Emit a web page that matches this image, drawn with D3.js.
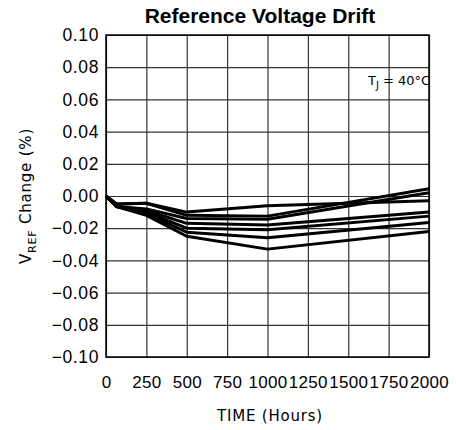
<!DOCTYPE html>
<html>
<head>
<meta charset="utf-8">
<script src="https://cdn.jsdelivr.net/npm/d3@7"></script>
<style>
  body { margin: 0; background: #fff; }
  svg { display: block; }
</style>
</head>
<body>
<svg></svg>
<script>
const WIDTH = 456;
const HEIGHT = 430;
const MARGINS = { left: 106, top: 35, right: 27, bottom: 73 };
const graphWidth = WIDTH - MARGINS.left - MARGINS.right;
const graphHeight = HEIGHT - MARGINS.top - MARGINS.bottom;

// time points (hours)
const hours = [0, 65, 250, 500, 1000, 2000];
// VREF change (%) for each unit
const unit1 = [0, -0.005, -0.0045, -0.0100, -0.0060, -0.0030];
const unit2 = [0, -0.005, -0.0045, -0.0120, -0.0125, 0.0045];
const unit3 = [0, -0.0065, -0.0080, -0.0140, -0.0145, 0.0020];
const unit4 = [0, -0.0065, -0.0090, -0.0170, -0.0180, -0.0100];
const unit5 = [0, -0.0065, -0.0100, -0.0200, -0.0210, -0.0125];
const unit6 = [0, -0.0065, -0.0110, -0.0225, -0.0260, -0.0165];
const unit7 = [0, -0.0065, -0.0120, -0.0250, -0.0330, -0.0220];
const units = [unit1, unit2, unit3, unit4, unit5, unit6, unit7];

const xTicks = [0, 250, 500, 750, 1000, 1250, 1500, 1750, 2000];
const yTicks = [0.1, 0.08, 0.06, 0.04, 0.02, 0, -0.02, -0.04, -0.06, -0.08, -0.1];

const svg = d3.select('svg').attr('width', WIDTH).attr('height', HEIGHT);

const graph = svg
  .append('g')
  .attr('transform', `translate(${MARGINS.left}, ${MARGINS.top})`);

const x = d3.scaleLinear().domain([0, 2000]).range([0, graphWidth]);
const y = d3.scaleLinear().domain([-0.1, 0.1]).range([graphHeight, 0]);

// grid
const xGrid = graph.append('g')
  .call(d3.axisBottom(x).tickValues(xTicks).tickSize(graphHeight).tickFormat(''));
const yGrid = graph.append('g')
  .call(d3.axisLeft(y).tickValues(yTicks).tickSize(-graphWidth).tickFormat(''));
[xGrid, yGrid].forEach((g) => {
  g.select('.domain').remove();
  g.selectAll('line').attr('stroke', '#333').attr('stroke-width', 1.2);
});

graph.append('rect')
  .attr('width', graphWidth)
  .attr('height', graphHeight)
  .attr('fill', 'none')
  .attr('stroke', '#000')
  .attr('stroke-width', 1.5);

// tick labels
const xAxis = graph.append('g')
  .attr('transform', `translate(0, ${graphHeight})`)
  .call(d3.axisBottom(x).tickValues(xTicks).tickSize(0).tickPadding(19).tickFormat(d3.format('d')));
const yAxis = graph.append('g')
  .call(d3.axisLeft(y).tickValues(yTicks).tickSize(0).tickPadding(7).tickFormat(d3.format('.2f')));
xAxis.selectAll('text').style('font-size', '17px').style('letter-spacing', '0.3px');
yAxis.selectAll('text').style('font-size', '17.5px').style('letter-spacing', '0.6px');
[xAxis, yAxis].forEach((g) => {
  g.select('.domain').remove();
  g.selectAll('text')
    .attr('fill', '#000')
    .style('font-family', 'Liberation Sans, Arial, sans-serif');
});

// data lines
const line = d3.line()
  .x((d, i) => x(hours[i]))
  .y((d) => y(d));

graph.selectAll('path.unit')
  .data(units)
  .enter()
  .append('path')
  .attr('class', 'unit')
  .attr('d', line)
  .attr('fill', 'none')
  .attr('stroke', '#000')
  .attr('stroke-width', 3)
  .attr('stroke-linejoin', 'round');

// title
svg.append('text')
  .attr('x', 260)
  .attr('y', 23)
  .attr('text-anchor', 'middle')
  .style('font-family', 'Liberation Sans, Arial, sans-serif')
  .style('font-weight', 'bold')
  .style('font-size', '21px')
  .text('Reference Voltage Drift');

// axis titles
svg.append('text')
  .attr('x', 270)
  .attr('y', 421)
  .attr('text-anchor', 'middle')
  .style('font-family', 'DejaVu Sans, sans-serif')
  .style('font-size', '15px')
  .style('letter-spacing', '0.8px')
  .text('TIME (Hours)');

const yTitle = svg.append('text')
  .attr('transform', `translate(31, ${MARGINS.top + graphHeight / 2}) rotate(-90)`)
  .attr('text-anchor', 'middle')
  .style('font-family', 'DejaVu Sans, sans-serif')
  .style('font-size', '15px')
  .style('letter-spacing', '0.8px');
yTitle.append('tspan').text('V');
yTitle.append('tspan').attr('dy', 5).style('font-size', '11px').text('REF');
yTitle.append('tspan').attr('dy', -5).text(' Change (%)');

// junction temperature note
const note = svg.append('text')
  .attr('x', 368)
  .attr('y', 85)
  .style('font-family', 'DejaVu Sans, sans-serif')
  .style('font-size', '13px');
note.append('tspan').text('T');
note.append('tspan').attr('dy', 4).style('font-size', '10px').text('J');
note.append('tspan').attr('dy', -4).text(' = 40°C');
</script>
</body>
</html>
